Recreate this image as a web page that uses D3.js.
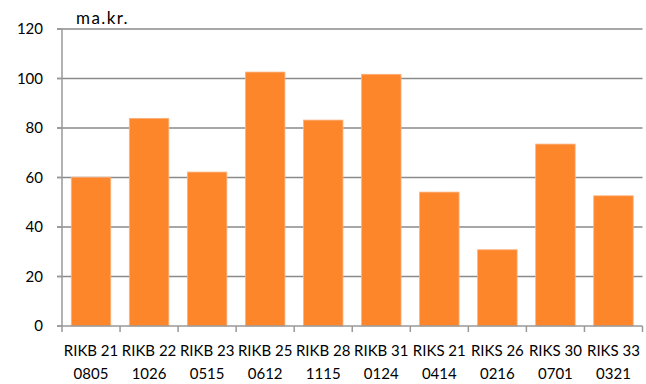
<!DOCTYPE html>
<html><head><meta charset="utf-8">
<script src="https://cdn.jsdelivr.net/npm/d3@7"></script>
<style>body{margin:0;background:#fff}svg{display:block}text{font-family:Lato,"Open Sans",sans-serif;fill:#000}</style>
</head><body><svg id="c" width="646" height="384"></svg>
<script>
const categories = [["RIKB 21","0805"],["RIKB 22","1026"],["RIKB 23","0515"],["RIKB 25","0612"],["RIKB 28","1115"],["RIKB 31","0124"],["RIKS 21","0414"],["RIKS 26","0216"],["RIKS 30","0701"],["RIKS 33","0321"]];
const values = [60.1, 83.9, 62.2, 102.6, 83.2, 101.7, 54.1, 30.8, 73.5, 52.6];
const yTicks = [0, 20, 40, 60, 80, 100, 120];
const unitLabel = "ma.kr.";

const svg = d3.select("#c");
const L = 62, R = 642.5, T = 29, B = 326;
const x = d3.scaleBand().domain(d3.range(categories.length)).range([L, R]).paddingInner(0.32).paddingOuter(0.16);
const xb = d3.scaleBand().domain(d3.range(categories.length)).range([L, R]);
const y = d3.scaleLinear().domain([0, 120]).range([B, T]);

// gridlines
svg.append("g").selectAll("line").data(yTicks.filter(d => d > 0)).join("line")
  .attr("x1", L - 5).attr("x2", R).attr("y1", d => y(d)).attr("y2", d => y(d))
  .attr("stroke", "#8a8a8a").attr("stroke-width", 1.5);

// bars
svg.append("g").selectAll("rect").data(values).join("rect")
  .attr("x", (d, i) => x(i)).attr("width", x.bandwidth())
  .attr("y", d => y(d)).attr("height", d => B - y(d))
  .attr("fill", "#fd852a").attr("stroke", "#fdb27f").attr("stroke-width", 0.8);

// y axis
svg.append("line").attr("x1", L).attr("x2", L).attr("y1", T).attr("y2", B)
  .attr("stroke", "#999").attr("stroke-width", 1.5);
svg.append("g").selectAll("line").data(yTicks).join("line")
  .attr("x1", L - 5).attr("x2", L).attr("y1", d => y(d)).attr("y2", d => y(d))
  .attr("stroke", "#999").attr("stroke-width", 1.5);
svg.append("g").selectAll("text").data(yTicks).join("text")
  .attr("x", 43).attr("y", d => y(d)).attr("dy", "0.36em")
  .attr("text-anchor", "end").attr("font-size", 15).text(d => d);

// x axis
svg.append("line").attr("x1", L - 5).attr("x2", R).attr("y1", B).attr("y2", B)
  .attr("stroke", "#999").attr("stroke-width", 1.5);
const xt = d3.range(categories.length + 1).map(i => L + i * xb.step());
svg.append("g").selectAll("line").data(xt).join("line")
  .attr("x1", d => d).attr("x2", d => d).attr("y1", B).attr("y2", B + 6)
  .attr("stroke", "#999").attr("stroke-width", 1.5);
const lab = svg.append("g").selectAll("text").data(categories).join("text")
  .attr("text-anchor", "middle").attr("font-size", 15);
lab.append("tspan").attr("x", (d, i) => xb(i) + xb.bandwidth() / 2).attr("y", 356).text(d => d[0]);
lab.append("tspan").attr("x", (d, i) => xb(i) + xb.bandwidth() / 2).attr("y", 379).text(d => d[1]);

svg.append("text").attr("x", 76).attr("y", 24).attr("font-size", 17).attr("letter-spacing", 1.4).text(unitLabel);
</script></body></html>
